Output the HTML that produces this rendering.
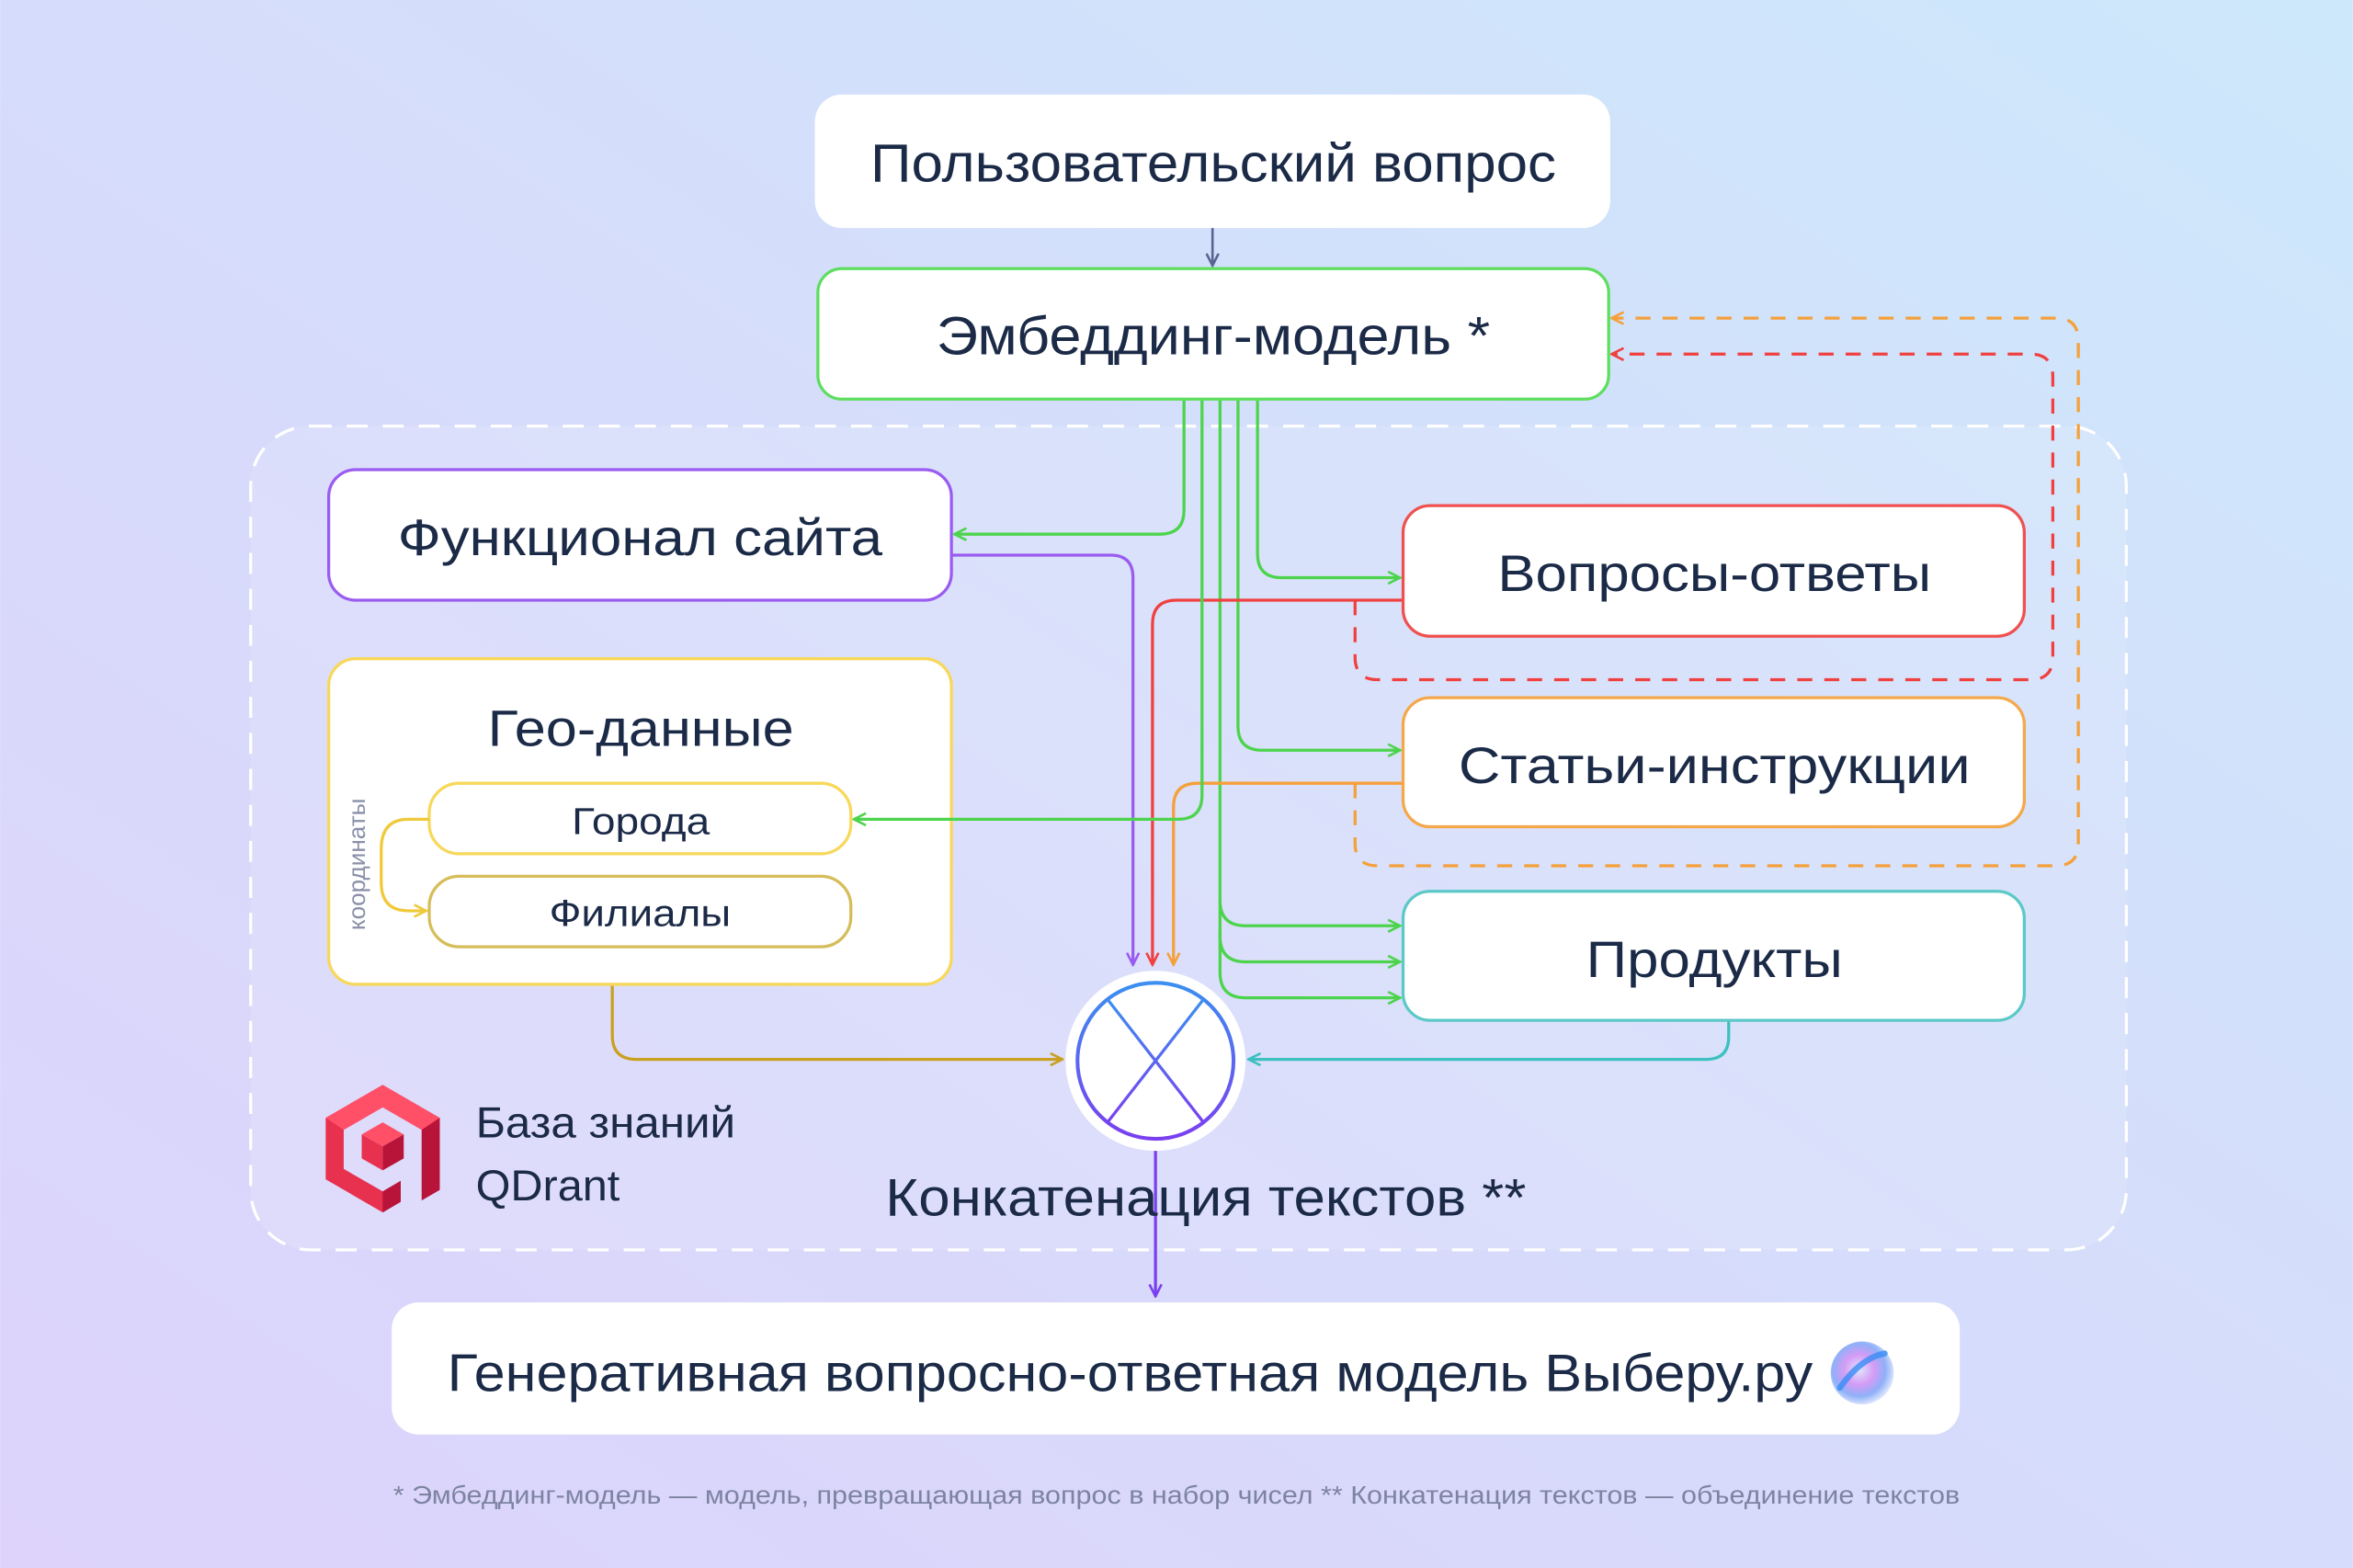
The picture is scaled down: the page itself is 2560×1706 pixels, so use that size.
<!DOCTYPE html>
<html><head><meta charset="utf-8"><style>
html,body{margin:0;padding:0;width:2560px;height:1706px;overflow:hidden}
svg{display:block}
text{font-family:"Liberation Sans","Noto Sans CJK SC",sans-serif;fill:#1b2a47}
</style></head><body>
<svg width="2560" height="1706" viewBox="0 0 1568 1045" xmlns="http://www.w3.org/2000/svg">
<defs>
<linearGradient id="bg" x1="0" y1="1" x2="1" y2="0">
<stop offset="0" stop-color="#ddd3fb"/><stop offset="0.5" stop-color="#d6dcfb"/><stop offset="1" stop-color="#cde8fb"/>
</linearGradient>
<linearGradient id="cg" x1="0" y1="0" x2="0" y2="1">
<stop offset="0" stop-color="#3b8ff0"/><stop offset="1" stop-color="#7a3ff0"/>
</linearGradient>
<radialGradient id="orb" cx="0.45" cy="0.45" r="0.6">
<stop offset="0" stop-color="#dfe6ff"/><stop offset="0.4" stop-color="#d59cf5"/><stop offset="0.7" stop-color="#8fb0f8"/><stop offset="1" stop-color="#f2f4ff"/>
</radialGradient>
<marker id="ag" viewBox="0 0 10 10" refX="9" refY="5" markerWidth="10" markerHeight="10" markerUnits="userSpaceOnUse" orient="auto"><path d="M1,1 L9,5 L1,9" fill="none" stroke="#4cd44c" stroke-width="1.6"/></marker>
<marker id="ap" viewBox="0 0 10 10" refX="9" refY="5" markerWidth="10" markerHeight="10" markerUnits="userSpaceOnUse" orient="auto"><path d="M1,1 L9,5 L1,9" fill="none" stroke="#9a5cf0" stroke-width="1.6"/></marker>
<marker id="ar" viewBox="0 0 10 10" refX="9" refY="5" markerWidth="10" markerHeight="10" markerUnits="userSpaceOnUse" orient="auto"><path d="M1,1 L9,5 L1,9" fill="none" stroke="#f04040" stroke-width="1.6"/></marker>
<marker id="ao" viewBox="0 0 10 10" refX="9" refY="5" markerWidth="10" markerHeight="10" markerUnits="userSpaceOnUse" orient="auto"><path d="M1,1 L9,5 L1,9" fill="none" stroke="#f5a03a" stroke-width="1.6"/></marker>
<marker id="ay" viewBox="0 0 10 10" refX="9" refY="5" markerWidth="10" markerHeight="10" markerUnits="userSpaceOnUse" orient="auto"><path d="M1,1 L9,5 L1,9" fill="none" stroke="#f0c93a" stroke-width="1.6"/></marker>
<marker id="au" viewBox="0 0 10 10" refX="9" refY="5" markerWidth="10" markerHeight="10" markerUnits="userSpaceOnUse" orient="auto"><path d="M1,1 L9,5 L1,9" fill="none" stroke="#c9a020" stroke-width="1.6"/></marker>
<marker id="at" viewBox="0 0 10 10" refX="9" refY="5" markerWidth="10" markerHeight="10" markerUnits="userSpaceOnUse" orient="auto"><path d="M1,1 L9,5 L1,9" fill="none" stroke="#3cc0c0" stroke-width="1.6"/></marker>
<marker id="ab" viewBox="0 0 10 10" refX="9" refY="5" markerWidth="10" markerHeight="10" markerUnits="userSpaceOnUse" orient="auto"><path d="M1,1 L9,5 L1,9" fill="none" stroke="#5a6490" stroke-width="1.6"/></marker>
<marker id="av" viewBox="0 0 10 10" refX="9" refY="5" markerWidth="10" markerHeight="10" markerUnits="userSpaceOnUse" orient="auto"><path d="M1,1 L9,5 L1,9" fill="none" stroke="#7a3ff0" stroke-width="1.6"/></marker>
</defs>
<rect width="1568" height="1045" fill="url(#bg)"/>

<rect x="167" y="284" width="1250" height="549" rx="40" fill="#ffffff" fill-opacity="0.12" stroke="#ffffff" stroke-width="2" stroke-dasharray="14 10"/>

<rect x="543" y="63" width="530" height="89" rx="18" fill="#fff"/>
<text x="580" y="121" font-size="36" textLength="457" lengthAdjust="spacingAndGlyphs">Пользовательский вопрос</text>
<line x1="808" y1="152" x2="808" y2="177" stroke="#5a6490" stroke-width="1.6" marker-end="url(#ab)"/>
<rect x="545" y="179" width="527" height="87" rx="16" fill="#fff" stroke="#5ede5e" stroke-width="2"/>
<text x="624" y="236" font-size="36" textLength="369" lengthAdjust="spacingAndGlyphs">Эмбеддинг-модель *</text>

<g fill="none" stroke="#4cd44c" stroke-width="2">
<path d="M789,267 V340 Q789,356 773,356 H636" marker-end="url(#ag)"/>
<path d="M813,267 V600 Q813,617 830,617 H933" marker-end="url(#ag)"/>
<path d="M813,600 V624 Q813,641 830,641 H933" marker-end="url(#ag)"/>
<path d="M813,620 V648 Q813,665 830,665 H933" marker-end="url(#ag)"/>
<path d="M825,267 V484 Q825,500 841,500 H933" marker-end="url(#ag)"/>
<path d="M838,267 V369 Q838,385 854,385 H933" marker-end="url(#ag)"/>
</g>

<path d="M903,400 V438 Q903,453 918,453 H1353 Q1368,453 1368,438 V251 Q1368,236 1353,236 H1074" fill="none" stroke="#f04040" stroke-width="2" stroke-dasharray="10 8" marker-end="url(#ar)"/>
<path d="M903,522 V562 Q903,577 918,577 H1370 Q1385,577 1385,562 V227 Q1385,212 1370,212 H1074" fill="none" stroke="#f5a03a" stroke-width="2" stroke-dasharray="10 8" marker-end="url(#ao)"/>

<path d="M634,370 H740 Q755,370 755,385 V643" fill="none" stroke="#9a5cf0" stroke-width="2" marker-end="url(#ap)"/>
<path d="M935,400 H784 Q768,400 768,416 V643" fill="none" stroke="#f04040" stroke-width="2" marker-end="url(#ar)"/>
<path d="M935,522 H798 Q782,522 782,538 V643" fill="none" stroke="#f5a03a" stroke-width="2" marker-end="url(#ao)"/>
<path d="M408,631 V690 Q408,706 424,706 H708" fill="none" stroke="#c9a020" stroke-width="2" marker-end="url(#au)"/>
<path d="M1152,680 V691 Q1152,706 1137,706 H832" fill="none" stroke="#3cc0c0" stroke-width="2" marker-end="url(#at)"/>

<rect x="219" y="313" width="415" height="87" rx="18" fill="#fff" stroke="#9a5cf0" stroke-width="2"/>
<text x="265" y="370" font-size="34" textLength="323" lengthAdjust="spacingAndGlyphs">Функционал сайта</text>

<rect x="219" y="439" width="415" height="217" rx="18" fill="#fff" stroke="#f7d85a" stroke-width="2"/>
<text x="325" y="497" font-size="34" textLength="204" lengthAdjust="spacingAndGlyphs">Гео-данные</text>
<path d="M801,267 V530 Q801,546 785,546 H569" fill="none" stroke="#4cd44c" stroke-width="2" marker-end="url(#ag)"/>
<rect x="286" y="522" width="281" height="47" rx="20" fill="#fff" stroke="#f7d85a" stroke-width="2"/>
<text x="381" y="556" font-size="25" textLength="92" lengthAdjust="spacingAndGlyphs">Города</text>
<rect x="286" y="584" width="281" height="47" rx="20" fill="#fff" stroke="#d6bd5a" stroke-width="2"/>
<text x="366" y="617" font-size="25" textLength="121" lengthAdjust="spacingAndGlyphs">Филиалы</text>
<path d="M286,546 H272 Q254,546 254,566 V588 Q254,607 272,607 H284" fill="none" stroke="#f0c93a" stroke-width="2" marker-end="url(#ay)"/>
<text transform="translate(243,576) rotate(-90)" font-size="16" text-anchor="middle" style="fill:#8a8fa8">координаты</text>

<rect x="935" y="337" width="414" height="87" rx="18" fill="#fff" stroke="#f05050" stroke-width="2"/>
<text x="998" y="394" font-size="34" textLength="289" lengthAdjust="spacingAndGlyphs">Вопросы-ответы</text>
<rect x="935" y="465" width="414" height="86" rx="18" fill="#fff" stroke="#f5a84a" stroke-width="2"/>
<text x="972" y="522" font-size="34" textLength="341" lengthAdjust="spacingAndGlyphs">Статьи-инструкции</text>
<rect x="935" y="594" width="414" height="86" rx="18" fill="#fff" stroke="#5cc8c8" stroke-width="2"/>
<text x="1057" y="651" font-size="34" textLength="171" lengthAdjust="spacingAndGlyphs">Продукты</text>

<circle cx="770" cy="707" r="60" fill="#fff"/>
<circle cx="770" cy="707" r="52" fill="#fff" stroke="url(#cg)" stroke-width="2.5"/>
<line x1="738" y1="666" x2="802" y2="748" stroke="url(#cg)" stroke-width="2"/>
<line x1="802" y1="666" x2="738" y2="748" stroke="url(#cg)" stroke-width="2"/>
<line x1="770" y1="767" x2="770" y2="864" stroke="#7a3ff0" stroke-width="2" marker-end="url(#av)"/>
<text x="590" y="810" font-size="35" textLength="427" lengthAdjust="spacingAndGlyphs">Конкатенация текстов  **</text>

<g transform="translate(217,723)">
<polygon points="38,0 76,22 76,70 64,77 64,30 38,15 12,30 12,56 38,71 50,64 50,78 38,85 0,63 0,22" fill="#e8304f"/>
<polygon points="38,0 76,22 64,30 38,15 12,30 0,22" fill="#ff5068"/>
<polygon points="76,22 76,70 64,77 64,30" fill="#b8143a"/>
<polygon points="38,25 52,33 38,41 24,33" fill="#ff5068"/>
<polygon points="24,33 38,41 38,57 24,49" fill="#e8304f"/>
<polygon points="52,33 52,49 38,57 38,41" fill="#b8143a"/>
<polygon points="38,71 50,64 50,78 38,85" fill="#b8143a"/>
</g>
<text x="317" y="758" font-size="29" textLength="173" lengthAdjust="spacingAndGlyphs">База знаний</text>
<text x="317" y="800" font-size="29" textLength="96" lengthAdjust="spacingAndGlyphs">QDrant</text>

<rect x="261" y="868" width="1045" height="88" rx="18" fill="#fff"/>
<text x="298" y="927" font-size="35" textLength="910" lengthAdjust="spacingAndGlyphs">Генеративная вопросно-ответная модель Выберу.ру</text>
<circle cx="1241" cy="915" r="21" fill="url(#orb)"/>
<path d="M1226,925 Q1240,905 1256,902" stroke="#3a8cf5" stroke-width="4" fill="none" stroke-linecap="round" opacity="0.8"/>

<text x="262" y="1002" font-size="17" textLength="1044" lengthAdjust="spacingAndGlyphs" style="fill:#7d84a0">* Эмбеддинг-модель — модель, превращающая вопрос в набор чисел   ** Конкатенация текстов — объединение текстов</text>
</svg>
</body></html>
